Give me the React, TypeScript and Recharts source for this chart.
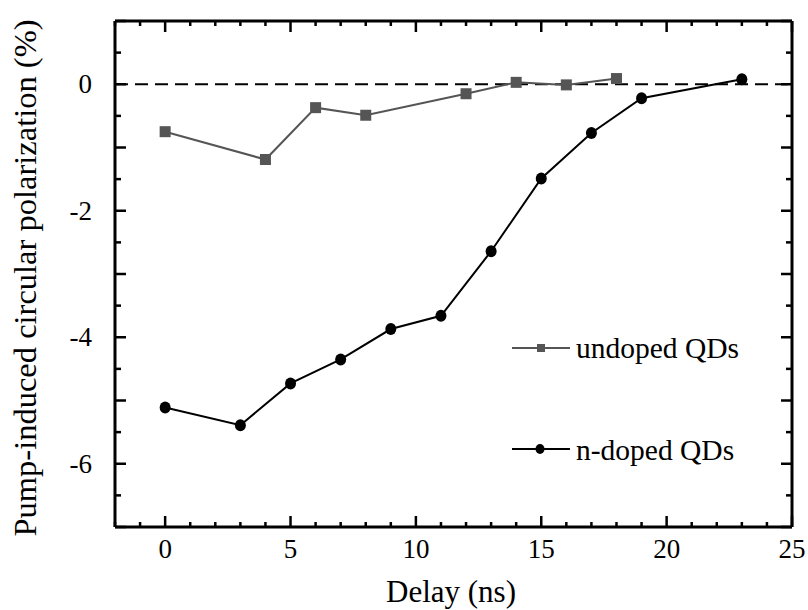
import React from 'react';
import { LineChart, Line, XAxis, YAxis, ReferenceLine } from 'recharts';

const undopedDelay = [0, 4, 6, 8, 12, 14, 16, 18];
const undopedPol = [-0.75, -1.19, -0.37, -0.49, -0.15, 0.03, -0.01, 0.09];

const ndopedDelay = [0, 3, 5, 7, 9, 11, 13, 15, 17, 19, 23];
const ndopedPol = [-5.11, -5.39, -4.73, -4.35, -3.87, -3.66, -2.64, -1.49, -0.77, -0.22, 0.08];

const xTicks = Array.from({ length: 28 }, (_, i) => i - 2);
const xLabels = [0, 5, 10, 15, 20, 25];
const yTicks = Array.from({ length: 17 }, (_, i) => 1 - i * 0.5);
const yLabels = [0, -2, -4, -6];

const undoped = undopedDelay.map((d, i) => ({ delay: d, pol: undopedPol[i] }));
const ndoped = ndopedDelay.map((d, i) => ({ delay: d, pol: ndopedPol[i] }));

const FONT = '"Liberation Serif", "DejaVu Serif", serif';
const GRAY = '#555555';

// plot box (chart pixels)
const W = 808;
const H = 610;
const M_TOP = 21;
const M_RIGHT = 16;
const Y_W = 115;
const X_H = 83;
const PLOT_TOP = M_TOP;
const PLOT_RIGHT = W - M_RIGHT;

const XTick = (props: any) => {
  const { x, y, payload } = props;
  const v = payload.value;
  const len = v % 5 === 0 ? 11 : 5;
  return (
    <g>
      <line x1={x} x2={x} y1={y} y2={y - len} stroke="#000" strokeWidth={2.5} />
      <line x1={x} x2={x} y1={PLOT_TOP} y2={PLOT_TOP + len} stroke="#000" strokeWidth={2.5} />
      {xLabels.includes(v) && (
        <text x={x} y={y + 31} textAnchor="middle" fontFamily={FONT} fontSize={27} fill="#000">
          {v}
        </text>
      )}
    </g>
  );
};

const YTick = (props: any) => {
  const { x, y, payload } = props;
  const v = payload.value;
  const len = Number.isInteger(v) ? 11 : 6;
  return (
    <g>
      <line x1={x} x2={x + len} y1={y} y2={y} stroke="#000" strokeWidth={2.5} />
      <line x1={PLOT_RIGHT} x2={PLOT_RIGHT - len} y1={y} y2={y} stroke="#000" strokeWidth={2.5} />
      {yLabels.includes(v) && (
        <text x={x - 23} y={y + 9} textAnchor="end" fontFamily={FONT} fontSize={27} fill="#000">
          {v}
        </text>
      )}
    </g>
  );
};

const SquareDot = (props: any) => {
  const { cx, cy } = props;
  if (cx == null || cy == null) return null;
  return <rect x={cx - 5.5} y={cy - 5.5} width={11} height={11} fill={GRAY} />;
};

const CircleDot = (props: any) => {
  const { cx, cy } = props;
  if (cx == null || cy == null) return null;
  return <ellipse cx={cx} cy={cy} rx={5.5} ry={6} fill="#000" />;
};

export default function App() {
  return (
    <div style={{ position: 'absolute', left: 0, top: 0, width: W, height: H, background: '#fff' }}>
      <LineChart width={W} height={H} margin={{ top: M_TOP, right: M_RIGHT, bottom: 0, left: 0 }}>
        <XAxis
          dataKey="delay"
          type="number"
          domain={[-2, 25]}
          ticks={xTicks}
          interval={0}
          height={X_H}
          tickSize={0}
          tickMargin={0}
          tickLine={false}
          axisLine={{ stroke: '#000', strokeWidth: 3 }}
          tick={<XTick />}
          allowDataOverflow
        />
        <YAxis
          type="number"
          domain={[-7, 1]}
          ticks={yTicks}
          interval={0}
          width={Y_W}
          tickSize={0}
          tickMargin={0}
          tickLine={false}
          axisLine={{ stroke: '#000', strokeWidth: 3 }}
          tick={<YTick />}
          allowDataOverflow
        />
        <ReferenceLine y={1} stroke="#000" strokeWidth={3} />
        <ReferenceLine x={25} stroke="#000" strokeWidth={3} />
        <ReferenceLine y={0} stroke="#000" strokeWidth={2} strokeDasharray="13 7" />
        <Line
          data={undoped}
          dataKey="pol"
          stroke={GRAY}
          strokeWidth={2}
          dot={<SquareDot />}
          isAnimationActive={false}
          name="undoped QDs"
        />
        <Line
          data={ndoped}
          dataKey="pol"
          stroke="#000"
          strokeWidth={2}
          dot={<CircleDot />}
          isAnimationActive={false}
          name="n-doped QDs"
        />
        {/* legend */}
        <g>
          <line x1={512} x2={570} y1={348} y2={348} stroke={GRAY} strokeWidth={2} />
          <rect x={537} y={344} width={8} height={8} fill={GRAY} />
          <text x={576} y={358} fontFamily={FONT} fontSize={29.5} fill="#000">undoped QDs</text>
          <line x1={512} x2={570} y1={449} y2={449} stroke="#000" strokeWidth={2} />
          <ellipse cx={540} cy={449} rx={4.5} ry={5} fill="#000" />
          <text x={576} y={460} fontFamily={FONT} fontSize={29.5} fill="#000">n-doped QDs</text>
        </g>
        <text x={451} y={602} textAnchor="middle" fontFamily={FONT} fontSize={31} fill="#000">
          Delay (ns)
        </text>
        <text
          transform="translate(36, 278) rotate(-90)"
          textAnchor="middle"
          fontFamily={FONT}
          fontSize={32.5}
          fill="#000"
        >
          Pump-induced circular polarization (%)
        </text>
      </LineChart>
    </div>
  );
}
